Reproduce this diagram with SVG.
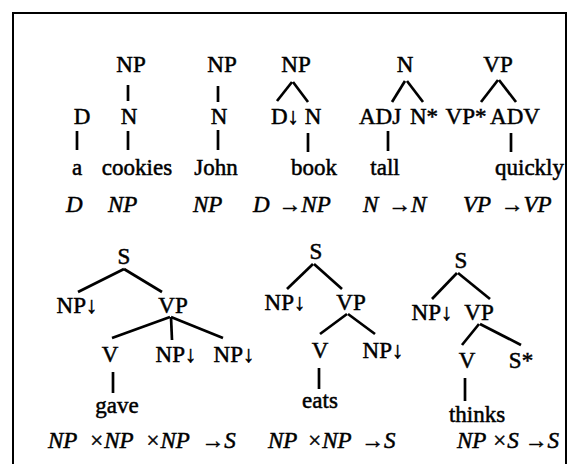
<svg xmlns="http://www.w3.org/2000/svg" width="569" height="464" viewBox="0 0 569 464">
<style>
text{font-family:"Liberation Serif","Times New Roman",serif;font-size:23px;fill:#000;stroke:#000;stroke-width:0.5;text-anchor:middle}
.it{font-style:italic;text-anchor:start}
.s{text-anchor:start}
.e{text-anchor:end}
#edges line{stroke:#000;stroke-width:2.7;stroke-linecap:butt}
</style>
<rect width="569" height="464" fill="#fff"/>
<path d="M13,470 V13 H566 V470" fill="none" stroke="#000" stroke-width="2"/>
<g id="edges">
<line x1="77" y1="131" x2="77" y2="150"/>
<line x1="128" y1="85" x2="128" y2="101"/>
<line x1="128" y1="131" x2="128" y2="150"/>
<line x1="218" y1="86" x2="218" y2="102"/>
<line x1="218" y1="130" x2="218" y2="150"/>
<line x1="292" y1="82" x2="277" y2="101"/>
<line x1="293" y1="82" x2="308" y2="102"/>
<line x1="308" y1="133" x2="308" y2="152"/>
<line x1="405" y1="81" x2="392" y2="102"/>
<line x1="407" y1="81" x2="423" y2="102"/>
<line x1="388" y1="131" x2="388" y2="151"/>
<line x1="498" y1="80" x2="481" y2="102"/>
<line x1="499" y1="80" x2="516" y2="102"/>
<line x1="511" y1="133" x2="511" y2="152"/>
<line x1="124" y1="269" x2="78" y2="292"/>
<line x1="124" y1="269" x2="162" y2="292"/>
<line x1="170" y1="317" x2="112" y2="338"/>
<line x1="171" y1="317" x2="172" y2="340"/>
<line x1="171" y1="317" x2="223" y2="338"/>
<line x1="113" y1="372" x2="113" y2="393"/>
<line x1="313" y1="264" x2="287" y2="289"/>
<line x1="314" y1="264" x2="342" y2="289"/>
<line x1="347" y1="314" x2="320" y2="334"/>
<line x1="348" y1="314" x2="375" y2="334"/>
<line x1="319" y1="368" x2="319" y2="389"/>
<line x1="457" y1="273" x2="432" y2="299"/>
<line x1="458" y1="273" x2="490" y2="299"/>
<line x1="479" y1="324" x2="462" y2="345"/>
<line x1="480" y1="324" x2="521" y2="345"/>
<line x1="465" y1="378" x2="465" y2="401"/>
</g>
<g id="t1"><text x="82" y="124">D</text><text x="77" y="175">a</text></g>
<g id="t2"><text x="131" y="72">NP</text><text x="129" y="124">N</text><text x="137" y="175">cookies</text></g>
<g id="t3"><text x="222" y="72">NP</text><text x="219" y="124">N</text><text x="216" y="175">John</text></g>
<g id="t4"><text x="296" y="72">NP</text><text class="s" x="271" y="124">D↓</text><text x="313" y="124">N</text><text x="314" y="175">book</text></g>
<g id="t5"><text x="405" y="72">N</text><text x="380" y="124">ADJ</text><text x="424" y="124">N*</text><text x="385" y="175">tall</text></g>
<g id="t6"><text x="498" y="72">VP</text><text x="466" y="124">VP*</text><text x="515" y="124">ADV</text><text class="e" x="564" y="175">quickly</text></g>
<g id="types1">
<text class="it" x="66" y="212">D</text>
<text class="it" x="108" y="212">NP</text>
<text class="it" x="193" y="212">NP</text>
<text class="it" x="253" y="212" word-spacing="3">D →NP</text>
<text class="it" x="363" y="212" word-spacing="4">N →N</text>
<text class="it" x="463" y="212" word-spacing="4">VP →VP</text>
</g>
<g id="tA"><text x="124" y="264">S</text><text x="77" y="313">NP↓</text><text x="173" y="313">VP</text><text x="110" y="362">V</text><text x="176" y="362">NP↓</text><text x="234" y="362">NP↓</text><text x="117" y="413">gave</text></g>
<g id="tB"><text x="316" y="259">S</text><text x="285" y="310">NP↓</text><text x="351" y="310">VP</text><text x="320" y="358">V</text><text x="383" y="358">NP↓</text><text x="320" y="408">eats</text></g>
<g id="tC"><text x="461" y="268">S</text><text x="432" y="320">NP↓</text><text x="479" y="320">VP</text><text x="467" y="368">V</text><text x="521" y="368">S*</text><text x="477" y="422">thinks</text></g>
<g id="types2">
<text class="it" x="48" y="448" word-spacing="6">NP ×NP ×NP →S</text>
<text class="it" x="268" y="448" word-spacing="4">NP ×NP →S</text>
<text class="it" x="457" y="448">NP ×S →S</text>
</g>
</svg>
